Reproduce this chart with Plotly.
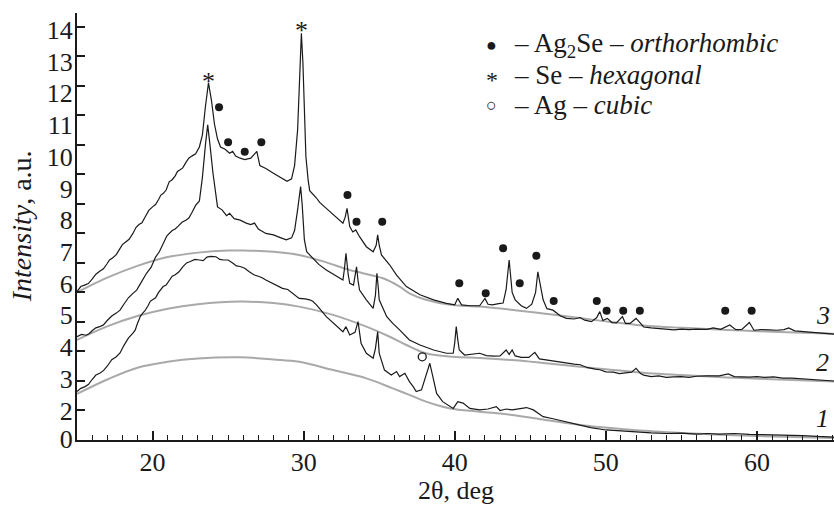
import plotly.graph_objects as go

# ---------------- data ----------------
c3_x = [15.0,15.5,16.0,16.5,17.0,17.35,17.8,18.2,18.7,19.1,19.5,20.0,20.4,20.7,21.1,21.5,21.8,22.2,22.6,23.1,23.3,23.5,23.7,23.9,24.1,24.3,24.5,24.8,25.1,25.3,25.5,25.8,26.1,26.5,26.9,27.1,27.5,28.0,28.5,28.9,29.2,29.4,29.6,29.75,29.85,29.95,30.05,30.15,30.3,30.4,30.85,31.06,31.5,31.95,32.3,32.6,32.75,32.87,33.05,33.25,33.45,33.7,34.15,34.6,34.8,34.9,35.0,35.15,35.7,36.15,36.8,37.7,38.6,39.45,40.0,40.2,40.45,41.0,41.65,42.0,42.2,42.5,42.9,43.2,43.4,43.6,43.8,44.0,44.4,44.75,45.1,45.35,45.5,45.7,45.85,46.1,46.5,47.0,47.4,47.9,48.3,48.6,49.05,49.4,49.6,49.8,50.1,50.4,50.7,51.1,51.3,51.6,52.0,52.3,52.5,53.0,53.5,54.0,54.5,55.0,55.5,56.0,56.7,57.1,57.6,58.2,58.6,59.0,59.5,59.8,60.3,60.8,61.3,61.8,62.1,62.5,63.0,63.5,64.0,64.5,65.1]
c3_y = [5.03,5.25,5.45,5.72,5.98,6.17,6.45,6.7,7.0,7.3,7.55,7.9,8.15,8.35,8.75,8.95,9.15,9.4,9.62,9.93,10.34,11.3,12.1,11.5,10.7,10.2,9.93,9.85,9.72,9.78,9.62,9.55,9.5,9.55,9.78,9.3,9.2,9.04,8.9,8.77,8.85,9.3,10.5,12.5,13.78,12.8,11.0,9.6,8.8,8.45,8.2,8.05,7.85,7.65,7.5,7.35,7.55,7.85,7.23,7.05,7.12,6.89,6.55,6.38,6.6,6.95,6.6,6.27,5.93,5.59,5.2,4.92,4.75,4.63,4.58,4.8,4.58,4.55,4.55,4.8,4.6,4.58,4.62,4.64,5.1,6.1,5.0,4.75,4.55,4.46,4.6,5.0,5.7,5.1,4.75,4.45,4.4,4.2,4.12,4.1,4.15,4.06,4.01,4.15,4.35,4.05,4.12,3.98,3.97,4.18,3.95,3.95,4.12,3.95,3.83,3.8,3.78,3.77,3.73,3.76,3.74,3.76,3.75,3.8,3.75,3.9,3.74,3.75,3.98,3.72,3.74,3.73,3.72,3.74,3.8,3.7,3.68,3.67,3.63,3.62,3.59]
# extra readings of the fine jagged texture on the rising flank
c3_x_fine = [15.25,15.75,16.25,16.75,17.15,17.6,18.0,18.45,18.9,19.3,19.75,20.2,20.55,20.9,21.3,21.65,22.0,22.4,22.85]
c3_y_fine = [5.2,5.3,5.62,5.8,6.1,6.28,6.62,6.8,7.2,7.36,7.78,7.98,8.3,8.47,8.82,9.1,9.22,9.55,9.7]

c2_x = [15.0,15.6,16.0,16.5,17.0,17.6,18.1,18.7,19.2,19.6,20.2,20.7,21.3,21.7,22.2,22.6,23.1,23.3,23.5,23.65,23.8,24.0,24.3,24.6,24.9,25.1,25.4,25.8,26.2,26.5,26.75,27.0,27.5,28.0,28.5,28.85,29.2,29.4,29.6,29.8,29.9,29.97,30.05,30.2,30.6,31.0,31.5,31.85,32.2,32.6,32.7,32.8,32.95,33.05,33.3,33.4,33.5,33.6,33.7,34.15,34.6,34.75,34.85,34.95,35.0,35.5,35.9,36.35,37.0,37.7,38.6,39.45,39.9,40.0,40.1,40.2,40.3,40.65,41.2,41.65,42.1,42.6,43.0,43.4,43.6,43.8,44.0,44.4,44.9,45.3,45.6,46.1,46.6,47.0,47.4,47.9,48.3,48.8,49.3,49.6,50.0,50.5,50.9,51.3,51.7,52.0,52.3,52.5,53.0,53.5,54.0,54.5,55.0,55.5,56.0,56.7,57.5,58.1,58.5,59.0,59.5,60.0,60.5,61.1,61.7,62.3,63.0,63.6,64.2,65.1]
c2_y = [3.5,3.55,3.7,3.84,4.05,4.3,4.6,4.97,5.3,5.65,6.2,6.65,7.1,7.25,7.45,7.7,8.1,8.9,10.0,10.68,10.0,9.04,7.9,7.8,7.6,7.68,7.5,7.45,7.35,7.3,7.35,7.15,7.0,6.95,6.85,6.78,6.85,7.1,7.8,8.59,8.0,7.2,6.78,6.38,6.16,5.95,5.76,5.65,5.54,5.42,5.8,6.33,5.6,5.31,5.25,5.5,5.87,5.4,5.08,4.75,4.46,4.9,5.65,5.1,4.75,4.18,3.95,3.73,3.39,3.22,3.05,2.94,2.94,3.3,3.84,3.4,3.05,2.88,2.92,2.94,2.86,2.84,2.85,3.05,2.9,3.05,2.85,2.8,2.8,2.97,2.75,2.71,2.65,2.62,2.6,2.57,2.55,2.45,2.4,2.38,2.31,2.3,2.25,2.28,2.3,2.43,2.25,2.2,2.15,2.17,2.12,2.14,2.15,2.12,2.16,2.17,2.17,2.24,2.15,2.14,2.13,2.15,2.12,2.14,2.1,2.1,2.08,2.05,2.03,2.0]
c2_x_fine = [15.3,15.8,16.25,16.75,17.3,17.85,18.4,18.95,19.4,19.9,20.45,20.95,21.5,21.95,22.4,22.85]
c2_y_fine = [3.58,3.6,3.8,3.9,4.2,4.4,4.82,5.08,5.5,5.85,6.38,6.92,7.15,7.38,7.52,7.95]

c1_x = [15.0,15.5,16.0,16.5,17.0,17.6,18.1,18.7,19.0,19.35,19.7,20.0,20.4,20.7,21.1,21.5,22.0,22.5,23.1,23.6,24.2,24.7,25.3,25.8,26.4,27.0,27.5,28.0,28.6,29.3,29.7,30.1,30.4,30.6,30.85,31.5,32.2,32.6,32.8,33.05,33.4,33.6,33.8,34.15,34.6,34.75,34.9,35.0,35.35,35.8,36.15,36.35,36.7,37.0,37.25,37.45,37.8,38.1,38.35,38.55,38.8,39.2,39.9,40.2,40.55,41.0,41.65,42.2,42.75,43.0,43.4,43.8,44.2,44.75,45.2,45.5,45.85,46.5,47.2,47.8,48.3,49.0,50.0,51.0,52.2,53.0,54.0,55.0,56.0,56.7,57.5,58.5,59.5,60.5,61.1,62.0,63.0,64.0,65.1]
c1_y = [1.64,1.8,2.05,2.26,2.5,2.82,3.2,3.62,3.95,4.3,4.55,4.75,5.0,5.2,5.42,5.6,5.87,6.05,6.1,6.2,6.21,6.1,6.0,5.88,5.7,5.55,5.42,5.28,5.14,4.95,4.8,4.78,4.75,4.7,4.58,4.18,3.84,3.67,3.84,3.56,3.65,4.01,3.28,2.94,2.77,3.1,3.67,2.94,2.37,2.2,2.32,2.15,2.26,1.98,1.81,1.64,1.7,2.15,2.6,2.15,1.58,1.3,1.07,1.3,1.25,1.07,1.02,1.05,1.13,1.0,1.05,1.02,1.05,1.1,1.02,0.9,0.79,0.72,0.63,0.56,0.51,0.42,0.34,0.3,0.25,0.24,0.22,0.23,0.2,0.22,0.2,0.22,0.19,0.18,0.17,0.17,0.15,0.12,0.1]
c1_x_fine = [15.25,15.75,16.25,16.75,17.3,17.85,18.4,18.85,19.2,19.5,19.85,20.2,20.55,20.9,21.3,21.75,22.25,22.8,23.35,23.85,24.45,25.0,25.55,26.1,26.7,27.25,27.75,28.3,28.95]
c1_y_fine = [1.75,1.88,2.2,2.35,2.72,2.95,3.45,3.72,4.2,4.38,4.7,4.82,5.12,5.25,5.55,5.7,6.0,6.12,6.08,6.22,6.12,6.1,5.9,5.82,5.6,5.5,5.35,5.22,5.1]

b3_x = [15,17,19,21,23,25,26,28,29.7,31.5,33.05,35.25,36.35,37.0,38.1,39.7,41.65,44,46,48,50,52,55,58,61,65.1]
b3_y = [5.0,5.5,5.9,6.2,6.35,6.42,6.42,6.38,6.27,6.02,5.76,5.48,5.2,4.97,4.75,4.58,4.52,4.4,4.28,4.15,4.02,3.9,3.8,3.73,3.67,3.6]
b2_x = [15,17,19,21,23,25.8,28,29.7,31.95,34.15,35.7,36.8,38.1,39.9,41.65,44,46,48.3,50,52,55,58,61,65.1]
b2_y = [3.39,3.85,4.2,4.45,4.6,4.69,4.64,4.52,4.24,3.84,3.5,3.22,2.94,2.82,2.78,2.7,2.6,2.48,2.4,2.3,2.2,2.12,2.06,1.98]
b1_x = [15,17,19,21,23,25.8,28,29.7,31.95,34.15,35.9,37.0,38.1,39.7,41.65,43.8,46,48.3,50,52,55,58,61,65.1]
b1_y = [1.56,2.05,2.45,2.65,2.76,2.8,2.73,2.65,2.37,2.09,1.75,1.53,1.3,1.07,0.96,0.85,0.68,0.51,0.42,0.33,0.24,0.17,0.12,0.07]

ag2se_x = [24.4,25.0,26.1,27.2,32.9,33.5,35.2,43.2,45.4,40.3,42.05,44.3,46.55,49.4,50.05,51.15,52.25,57.9,59.65]
ag2se_y = [11.28,10.09,9.77,10.09,8.3,7.4,7.4,6.5,6.24,5.31,4.97,5.31,4.71,4.71,4.38,4.38,4.38,4.38,4.38]
se_x = [23.7,29.85]
se_y = [12.34,14.07]
ag_x = [37.85]
ag_y = [2.82]

x_ticks = [20, 30, 40, 50, 60]
y_tick_labels = ["0","2","3","4","5","6","7","8","9","10","11","12","13","14"]
curve_labels = ["1", "2", "3"]

FONT = "Liberation Serif"
INK = "#1a1a1a"
GREY = "#a9a9a9"


def merged(xs, ys, xf, yf):
    pts = sorted(zip(list(xs) + list(xf), list(ys) + list(yf)))
    return [p[0] for p in pts], [p[1] for p in pts]


fig = go.Figure()
for bx, by in [(b1_x, b1_y), (b2_x, b2_y), (b3_x, b3_y)]:
    fig.add_trace(go.Scatter(x=bx, y=by, mode="lines", line=dict(color=GREY, width=2, shape="spline", smoothing=1.0), hoverinfo="skip"))
curves = [merged(c1_x, c1_y, c1_x_fine, c1_y_fine),
          merged(c2_x, c2_y, c2_x_fine, c2_y_fine),
          merged(c3_x, c3_y, c3_x_fine, c3_y_fine)]
for cx, cy in curves:
    fig.add_trace(go.Scatter(x=cx, y=cy, mode="lines", line=dict(color=INK, width=1.2), hoverinfo="skip"))

fig.add_trace(go.Scatter(x=ag2se_x, y=ag2se_y, mode="markers", marker=dict(symbol="circle", size=8, color=INK)))
fig.add_trace(go.Scatter(x=ag_x, y=ag_y, mode="markers", marker=dict(symbol="circle-open", size=8, color=INK, line=dict(width=1.3, color=INK))))

# y labels are spaced slightly differently from the tick marks in the original
y_label_pos = [0.05] + [1.0 + i * 1.075 for i in range(len(y_tick_labels) - 1)]

fig.update_xaxes(range=[15, 65.1], showline=True, linewidth=2, linecolor=INK, mirror=False,
                 showgrid=False, zeroline=False,
                 tickvals=x_ticks, ticks="inside", ticklen=9, tickwidth=1.5, tickcolor=INK, ticklabelstandoff=-2,
                 minor=dict(dtick=1, tick0=15, ticks="inside", ticklen=5, tickwidth=1, tickcolor=INK, showgrid=False),
                 tickfont=dict(family=FONT, size=26, color=INK))
fig.update_yaxes(range=[0, 14.47], showline=True, linewidth=2, linecolor=INK, mirror=False,
                 showgrid=False, zeroline=False,
                 tickvals=y_label_pos, ticktext=y_tick_labels, ticks="", ticklabelstandoff=-3,
                 minor=dict(tickvals=list(range(1, 15)), ticks="inside", ticklen=8, tickwidth=1.5, tickcolor=INK, showgrid=False),
                 tickfont=dict(family=FONT, size=26, color=INK))

ann = []
for sx, sy in zip(se_x, se_y):
    ann.append(dict(text="*", x=sx, y=sy, xref="x", yref="y", xanchor="center", yanchor="middle", yshift=-6,
                    showarrow=False, font=dict(family=FONT, size=26, color=INK)))
ann.append(dict(text="2θ, deg", x=0.5, y=-0.118, xref="paper", yref="paper", xanchor="center", yanchor="middle",
                showarrow=False, font=dict(family=FONT, size=26, color=INK)))
ann.append(dict(text="<i>Intensity</i>, a.u.", x=-0.073, y=0.5, xref="paper", yref="paper", xanchor="center", yanchor="middle",
                textangle=-90, showarrow=False, font=dict(family=FONT, size=28, color=INK)))
legend_rows = [("●", 18, 0, "– Ag<sub>2</sub>Se – <i>orthorhombic</i>", 45),
               ("*", 24, -5, "– Se – <i>hexagonal</i>", 75),
               ("○", 18, 0, "– Ag – <i>cubic</i>", 105)]
for sym, ssize, sshift, txt, py in legend_rows:
    yp = (440 - py) / 427
    ann.append(dict(text=sym, x=(491.7 - 77) / 757, y=yp, xref="paper", yref="paper", xanchor="center", yanchor="middle",
                    yshift=sshift, showarrow=False, font=dict(family=FONT, size=ssize, color=INK)))
    ann.append(dict(text=txt, x=(512 - 77) / 757, y=yp, xref="paper", yref="paper", xanchor="left", yanchor="middle",
                    showarrow=False, font=dict(family=FONT, size=27, color=INK)))
for lab, cy in zip(curve_labels, [c1_y, c2_y, c3_y]):
    ann.append(dict(text="<i>" + lab + "</i>", x=64.37, y=cy[-1] + 0.62, xref="x", yref="y", xanchor="center", yanchor="middle",
                    showarrow=False, font=dict(family=FONT, size=26, color=INK)))

fig.update_layout(width=834, height=507, margin=dict(l=77, r=0, t=13, b=67),
                  paper_bgcolor="white", plot_bgcolor="white", showlegend=False, annotations=ann)
fig.write_html("out.html", config={"displayModeBar": False}, post_script="document.body.style.margin='0px';")
